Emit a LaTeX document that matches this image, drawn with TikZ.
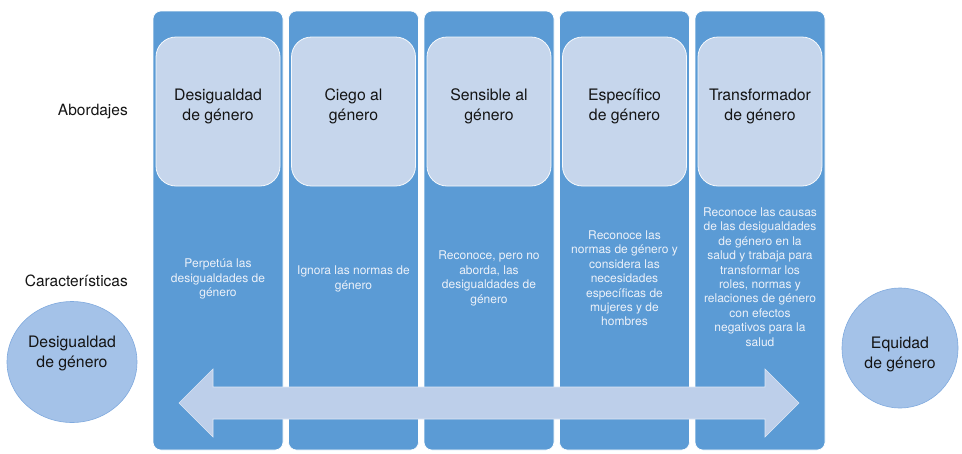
\documentclass[tikz,border=0pt]{standalone}
\usepackage{fontspec}
\setmainfont{TeX Gyre Heros}
\definecolor{colblue}{RGB}{91,155,213}
\definecolor{innerfill}{RGB}{198,214,236}
\definecolor{circfill}{RGB}{164,194,232}
\definecolor{circline}{RGB}{128,170,222}
\definecolor{arrowfill}{RGB}{189,207,234}
\definecolor{arrowline}{RGB}{222,231,245}
\definecolor{chartext}{RGB}{236,241,249}
\definecolor{darktext}{RGB}{20,20,20}
\tikzset{
  colbox/.style={fill=colblue, draw=white, line width=0.6pt, rounded corners=8pt,
    minimum width=130pt, minimum height=439pt, inner sep=0pt},
  abox/.style={fill=innerfill, draw=white!85!innerfill, line width=0.8pt, rounded corners=20pt,
    minimum width=124pt, minimum height=149pt, inner sep=0pt},
  atext/.style={align=center, text=darktext, inner sep=0pt,
    font=\fontsize{15.8}{20}\selectfont},
  ctext/.style={align=center, text=chartext, inner sep=0pt,
    font=\fontsize{12}{14.4}\selectfont},
  lbl/.style={anchor=east, text=darktext, inner sep=0pt,
    font=\fontsize{15.5}{19}\selectfont},
  endcirc/.style={ellipse, fill=circfill, draw=circline, line width=0.6pt, inner sep=0pt},
}
\usetikzlibrary{shapes.geometric}
\begin{document}
\begin{tikzpicture}[x=1pt,y=-1pt]
\useasboundingbox (0,0) rectangle (962,453);
% columns
\foreach \i/\cx in {1/218,2/353.5,3/489,4/624.5,5/760}{
  \node[colbox] (c\i) at (\cx,230.5) {};
  \node[abox] (a\i) at (\cx,111.5) {};
}
% approach titles
\node[atext] (t1) at ([yshift=5.5pt]a1.center) {Desigualdad\\de género};
\node[atext] (t2) at ([yshift=5.5pt]a2.center) {Ciego al\\género};
\node[atext] (t3) at ([yshift=5.5pt]a3.center) {Sensible al\\género};
\node[atext] (t4) at ([yshift=5.5pt]a4.center) {Específico\\de género};
\node[atext] (t5) at ([yshift=5.5pt]a5.center) {Transformador\\de género};
% characteristics
\node[ctext] (d1) at (218,279) {Perpetúa las\\desigualdades de\\género};
\node[ctext] (d2) at (353.5,279) {Ignora las normas de\\género};
\node[ctext] (d3) at (489,278.5) {Reconoce, pero no\\aborda, las\\desigualdades de\\género};
\node[ctext] (d4) at (624.5,278.5) {Reconoce las\\normas de género y\\considera las\\necesidades\\específicas de\\mujeres y de\\hombres};
\node[ctext] (d5) at (760,277) {Reconoce las causas\\de las desigualdades\\de género en la\\salud y trabaja para\\transformar los\\roles, normas y\\relaciones de género\\con efectos\\negativos para la\\salud};
% row labels
\node[lbl] (l1) at (128,112) {Abordajes};
\node[lbl] (l2) at (128,281) {Características};
% end circles
\node[endcirc, minimum width=130pt, minimum height=121pt] (e1) at (72,362) {};
\node[endcirc, minimum width=116pt, minimum height=120pt] (e2) at (900,348) {};
\node[atext] (et1) at (72,353.5) {Desigualdad\\de género};
\node[atext] (et2) at (900,354) {Equidad\\de género};
% double arrow
\draw[fill=arrowfill, draw=arrowline, line width=0.6pt]
  (179,403) -- (213,369) -- (213,387) -- (765,387) -- (765,369) -- (799,403)
  -- (765,437) -- (765,419) -- (213,419) -- (213,437) -- cycle;
\end{tikzpicture}
\end{document}
